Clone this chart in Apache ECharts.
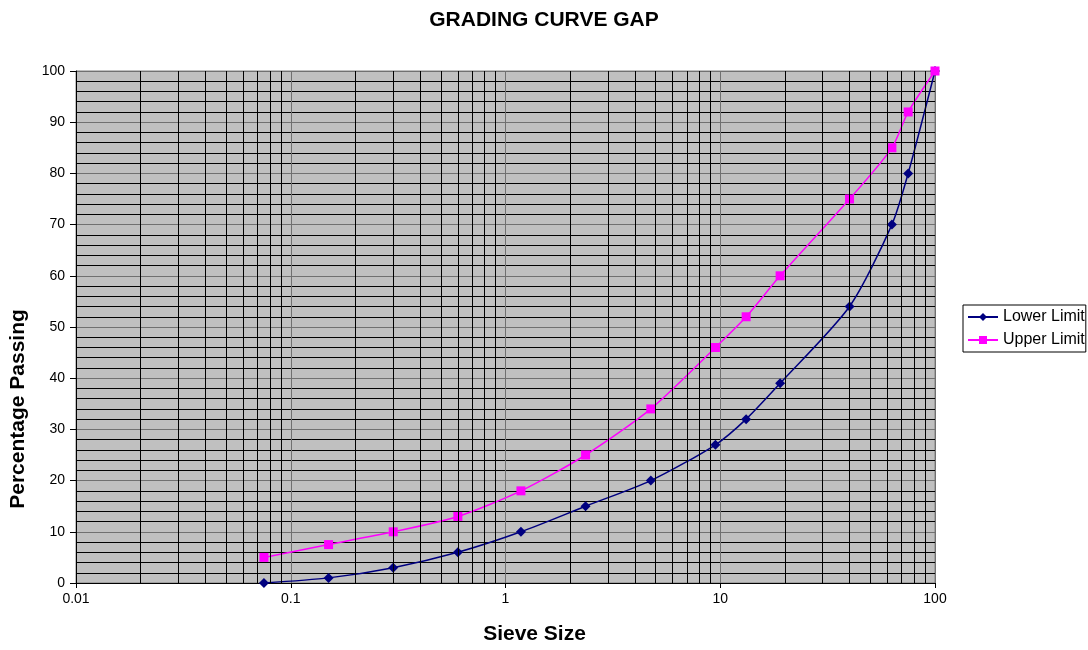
<!DOCTYPE html>
<html>
<head>
<meta charset="utf-8">
<script src="https://cdn.jsdelivr.net/npm/echarts@6/dist/echarts.min.js"></script>
<style>html,body{margin:0;padding:0;background:#fff}#c{width:1088px;height:650px}</style>
</head>
<body>
<div id="c"></div>
<script>
const sieveSizes = [0.075, 0.15, 0.3, 0.6, 1.18, 2.36, 4.75, 9.5, 13.2, 19, 40, 63, 75, 100];
const lowerLimit = [0, 1, 3, 6, 10, 15, 20, 27, 32, 39, 54, 70, 80, 100];
const upperLimit = [5, 7.5, 10, 13, 18, 25, 34, 46, 52, 60, 75, 85, 92, 100];
const xTickLabels = ['0.01', '0.1', '1', '10', '100'];

const decades = [0.01, 0.1, 1, 10];
const minorX = [];
decades.forEach(d => { for (let k = 2; k <= 9; k++) minorX.push(+(d * k).toPrecision(3)); });

const font = 'Liberation Sans, Arial, sans-serif';
const chart = echarts.init(document.getElementById('c'));
chart.setOption({
  animation: false,
  title: { text: 'GRADING CURVE GAP', left: 'center', top: 5, padding: [5, 5, 5, 19],
    textStyle: { fontFamily: font, fontSize: 21, fontWeight: 'bold', color: '#000' } },
  legend: {
    orient: 'vertical', left: 963, top: 305, padding: [2, 1, 2, 4],
    borderColor: '#000', borderWidth: 1, itemWidth: 30, itemHeight: 10, itemGap: 3,
    textStyle: { fontFamily: font, fontSize: 16, lineHeight: 20, color: '#000' },
    data: ['Lower Limit', 'Upper Limit']
  },
  grid: { left: 73, right: 153, top: 71, bottom: 66, show: true, backgroundColor: '#C0C0C0', borderColor: '#808080', borderWidth: 1 },
  xAxis: {
    type: 'log', logBase: 10, min: 0.01, max: 100,
    name: 'Sieve Size', nameLocation: 'middle', nameGap: 41,
    nameTextStyle: { fontFamily: font, fontSize: 21, fontWeight: 'bold', color: '#000', padding: [0, 0, 0, 58] },
    axisLine: { lineStyle: { color: '#000' } },
    axisTick: { show: true, length: 5, lineStyle: { color: '#000' } },
    axisLabel: { fontFamily: font, fontSize: 14, color: '#000', margin: 9,
      formatter: v => { const s = xTickLabels.find(t => Math.abs(parseFloat(t) - v) < 1e-9 * Math.max(1, v)); return s || ''; } },
    splitLine: { show: true, lineStyle: { color: '#707070', width: 1 } }
  },
  yAxis: {
    type: 'value', min: 0, max: 100, interval: 10,
    name: 'Percentage Passing', nameLocation: 'middle', nameGap: 47,
    nameTextStyle: { fontFamily: font, fontSize: 21, fontWeight: 'bold', color: '#000', padding: [0, 164, 0, 0] },
    axisLine: { show: true, lineStyle: { color: '#000' } },
    axisTick: { show: true, length: 6, lineStyle: { color: '#000' } },
    axisLabel: { fontFamily: font, fontSize: 14, color: '#000', margin: 11 },
    splitLine: { show: true, lineStyle: { color: '#707070', width: 1 } },
    minorTick: { show: false, splitNumber: 5 },
    minorSplitLine: { show: true, lineStyle: { color: '#000', width: 1 } }
  },
  series: [
    { name: 'grid', type: 'line', data: [], z: 1, silent: true,
      markLine: { silent: true, symbol: 'none', animation: false, label: { show: false },
        lineStyle: { color: '#000', width: 1, type: 'solid' },
        emphasis: { disabled: true },
        data: minorX.map(v => ({ xAxis: v })) } },
    { name: 'Lower Limit', type: 'line', smooth: 0.25, z: 3,
      data: sieveSizes.map((s, i) => [s, lowerLimit[i]]),
      symbol: 'diamond', symbolSize: 10,
      itemStyle: { color: '#000080' }, lineStyle: { color: '#000080', width: 1.5 } },
    { name: 'Upper Limit', type: 'line', smooth: 0.25, z: 3,
      data: sieveSizes.map((s, i) => [s, upperLimit[i]]),
      symbol: 'rect', symbolSize: 9,
      itemStyle: { color: '#FF00FF' }, lineStyle: { color: '#FF00FF', width: 1.5 } }
  ]
});
</script>
</body>
</html>
